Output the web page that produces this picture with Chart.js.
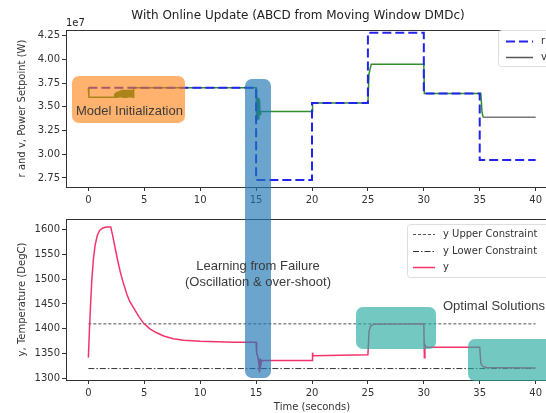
<!DOCTYPE html>
<html>
<head>
<meta charset="utf-8">
<script src="https://cdn.jsdelivr.net/npm/chart.js@4.4.1/dist/chart.umd.min.js"></script>
<style>
  html, body { margin: 0; padding: 0; background: #fff; overflow: hidden; }
  #wrap { position: relative; width: 546px; height: 413px; overflow: hidden; }
  #wrap canvas { position: absolute; left: 0; }
  #topChart { top: 0; }
  #bottomChart { top: 205px; }
  .hl { position: absolute; border-radius: 7px; z-index: 2; }
  .note { position: absolute; z-index: 3; font-family: "Liberation Sans", Arial, sans-serif;
          font-size: 13px; line-height: 16px; color: #3b3b3b; white-space: nowrap; }
</style>
</head>
<body>
<div id="wrap">
  <canvas id="topChart" width="560" height="207"></canvas>
  <canvas id="bottomChart" width="560" height="208"></canvas>

  <div class="hl" style="left:72px;top:76px;width:113px;height:47px;background:rgba(255,127,14,0.6)"></div>
  <div class="hl" style="left:245px;top:79px;width:26px;height:299px;background:rgba(31,119,180,0.66)"></div>
  <div class="hl" style="left:356px;top:307px;width:80px;height:42px;background:rgba(40,170,160,0.65)"></div>
  <div class="hl" style="left:468px;top:339px;width:100px;height:42px;background:rgba(40,170,160,0.65)"></div>

  <div class="note" style="left:76px;top:103px">Model Initialization</div>
  <div class="note" style="left:158px;top:258px;width:200px;text-align:center">Learning from Failure<br>(Oscillation &amp; over-shoot)</div>
  <div class="note" style="left:443px;top:298px">Optimal Solutions</div>
</div>

<script>
// ---- data (power in units of 1e7 W) ----
const timeTicks = [0, 5, 10, 15, 20, 25, 30, 35, 40];
const powerTicks = [2.75, 3.00, 3.25, 3.50, 3.75, 4.00, 4.25];
const tempTicks = [1300, 1350, 1400, 1450, 1500, 1550, 1600];

const rTime = [0, 15, 15, 20, 20, 25, 25, 30, 30, 35, 35, 40];
const rVal  = [3.70, 3.70, 2.73, 2.73, 3.54, 3.54, 4.28, 4.28, 3.64, 3.64, 2.94, 2.94];

const vTime = [0, 0.05, 2.30, 2.35, 2.40, 2.45, 2.50, 2.55, 2.60, 2.65, 2.70, 2.75, 2.80, 2.85, 2.90, 2.95,
               3.00, 3.05, 3.10, 3.15, 3.20, 3.25, 3.30, 3.35, 3.40, 3.45, 3.50, 3.55, 3.60, 3.65, 3.70, 3.75,
               3.80, 3.85, 3.90, 3.95, 4.00, 4.05,
               15, 15.05, 15.1, 15.15, 15.2, 15.25, 15.3, 15.35, 15.4, 20, 20.05, 25, 25.1, 25.3, 30, 30.05,
               35.1, 35.2, 35.3, 40];
const vVal  = [3.70, 3.60, 3.60, 3.64, 3.60, 3.65, 3.60, 3.66, 3.60, 3.66, 3.60, 3.67, 3.60, 3.67, 3.60, 3.68,
               3.60, 3.68, 3.60, 3.68, 3.60, 3.68, 3.60, 3.68, 3.60, 3.68, 3.60, 3.68, 3.60, 3.68, 3.60, 3.68,
               3.60, 3.68, 3.60, 3.68, 3.60, 3.70,
               3.70, 3.36, 3.60, 3.36, 3.59, 3.37, 3.58, 3.42, 3.45, 3.45, 3.54, 3.54, 3.85, 3.95, 3.95, 3.64,
               3.64, 3.45, 3.39, 3.39];

const yTime = [0, 0.1, 0.2, 0.3, 0.45, 0.6, 0.8, 1.0, 1.3, 1.6, 2.0, 2.2, 2.4, 2.6, 2.85, 3.1, 3.45, 3.7, 4.05, 4.5, 4.95,
               5.5, 6.1, 6.8, 7.6, 8.5, 10, 13, 15, 15.05, 15.15, 15.25, 15.3, 15.35, 15.4, 15.5, 20, 20.05, 20.1,
               25, 25.1, 25.25, 25.5, 30, 30.05, 30.1, 30.2, 35, 35.1, 35.3, 35.6, 40];
const yVal  = [1342, 1400, 1450, 1495, 1540, 1568, 1588, 1598, 1603, 1605, 1605, 1585, 1562, 1540, 1515, 1494, 1469, 1455, 1442, 1425, 1411,
               1400, 1392, 1385, 1380, 1377, 1375, 1373, 1373, 1350, 1345, 1330, 1312, 1340, 1325, 1336, 1336, 1352, 1346,
               1348, 1395, 1406, 1409, 1410, 1342, 1368, 1363, 1363, 1330, 1324, 1322, 1321];

const upperTime = [0, 40];
const upperVal  = [1410, 1410];
const lowerTime = [0, 40];
const lowerVal  = [1320, 1320];

const pts = (xs, ys) => xs.map((x, i) => ({ x: x, y: ys[i] }));

Chart.defaults.font.family = "DejaVu Sans";
Chart.defaults.font.size = 10;
Chart.defaults.color = "#333";

// frame, in-plot legend and extra texts
const decor = {
    id: 'decor',
    afterDraw(chart, args, opts) {
        const ctx = chart.ctx;
        const a = chart.chartArea;
        ctx.save();
        ctx.strokeStyle = '#333';
        ctx.lineWidth = 1;
        ctx.setLineDash([]);
        ctx.strokeRect(Math.round(a.left) + 0.5, Math.round(a.top) + 0.5,
                       Math.round(a.right - a.left), Math.round(a.bottom - a.top));

        const L = opts.legend;
        if (L) {
            const x0 = a.right - L.right, y0 = a.top + L.top;
            ctx.fillStyle = 'rgba(255,255,255,0.85)';
            ctx.strokeStyle = '#dedede';
            ctx.beginPath();
            ctx.roundRect(x0 + 0.5, y0 + 0.5, L.width, L.height, 3);
            ctx.fill();
            ctx.stroke();
            ctx.font = '10px "DejaVu Sans"';
            ctx.textBaseline = 'middle';
            chart.data.datasets.forEach((ds, i) => {
                const y = Math.round(y0 + L.first + i * L.gap) + 0.5;
                ctx.strokeStyle = ds.legendColor || ds.borderColor;
                ctx.lineWidth = ds.borderWidth;
                ctx.setLineDash(ds.borderDash || []);
                ctx.beginPath();
                ctx.moveTo(x0 + L.pad, y);
                ctx.lineTo(x0 + L.pad + L.len, y);
                ctx.stroke();
                ctx.setLineDash([]);
                ctx.fillStyle = '#333';
                ctx.fillText(ds.label, x0 + L.pad + L.len + 8, y);
            });
        }
        (opts.texts || []).forEach(t => {
            ctx.font = t.font;
            ctx.fillStyle = '#222';
            ctx.textAlign = t.align || 'left';
            ctx.textBaseline = 'alphabetic';
            ctx.fillText(t.text, t.x, t.y);
        });
        ctx.restore();
    }
};

function xAxis(height, title) {
    return {
        type: 'linear', min: -2, max: 42,
        afterBuildTicks: axis => { axis.ticks = timeTicks.map(v => ({ value: v })); },
        afterFit: scale => { scale.height = height; },
        ticks: { padding: 3, autoSkip: false, maxRotation: 0 },
        grid: { drawOnChartArea: false, tickLength: 4, color: '#333' },
        border: { display: false },
        title: title ? { display: true, text: title, padding: { top: 2, bottom: 0 }, font: { size: 10 } } : { display: false }
    };
}

function yAxis(min, max, tickVals, digits, title) {
    return {
        type: 'linear', min: min, max: max,
        afterBuildTicks: axis => { axis.ticks = tickVals.map(v => ({ value: v })); },
        afterFit: scale => { scale.width = 66; },
        ticks: { padding: 2, callback: v => Number(v).toFixed(digits) },
        grid: { drawOnChartArea: false, tickLength: 4, color: '#333' },
        border: { display: false },
        title: { display: true, text: title, padding: { top: 16, bottom: 0 }, font: { size: 10 } }
    };
}

// Power setpoint chart
new Chart(document.getElementById('topChart'), {
    type: 'line',
    data: {
        datasets: [{
            label: 'r',
            data: pts(rTime, rVal),
            borderColor: '#2323ee',
            borderWidth: 2,
            borderDash: [9, 4],
            order: 0
        }, {
            label: 'v',
            data: pts(vTime, vVal),
            borderColor: '#2f8f2f',
            legendColor: '#555',
            borderWidth: 1.5,
            segment: { borderColor: c => c.p0.parsed.x >= 35.25 ? '#777' : '#2f8f2f' },
            order: 1
        }]
    },
    options: {
        responsive: false,
        animation: false,
        elements: { point: { radius: 0 }, line: { tension: 0 } },
        layout: { padding: { top: 30, right: 2, bottom: 0, left: 0 }, autoPadding: false },
        scales: {
            x: xAxis(20, null),
            y: yAxis(2.655, 4.31, powerTicks, 2, 'r and v, Power Setpoint (W)')
        },
        plugins: {
            legend: { display: false },
            tooltip: { enabled: false },
            decor: {
                legend: { right: 60, top: 0, width: 70, height: 36, first: 11, gap: 16, pad: 8, len: 27 },
                texts: [
                    { text: 'With Online Update (ABCD from Moving Window DMDc)', x: 298, y: 19, font: '12px "DejaVu Sans"', align: 'center' },
                    { text: '1e7', x: 66, y: 26, font: '10px "DejaVu Sans"' }
                ]
            }
        }
    },
    plugins: [decor]
});

// Temperature chart
new Chart(document.getElementById('bottomChart'), {
    type: 'line',
    data: {
        datasets: [{
            label: 'y Upper Constraint',
            data: pts(upperTime, upperVal),
            borderColor: '#4a5252',
            borderWidth: 1,
            borderDash: [3, 2],
            order: 1
        }, {
            label: 'y Lower Constraint',
            data: pts(lowerTime, lowerVal),
            borderColor: '#333',
            borderWidth: 1,
            borderDash: [6, 2, 1.5, 2],
            order: 1
        }, {
            label: 'y',
            data: pts(yTime, yVal),
            borderColor: '#f5336b',
            borderWidth: 1.5,
            order: 0
        }]
    },
    options: {
        responsive: false,
        animation: false,
        elements: { point: { radius: 0 }, line: { tension: 0 } },
        layout: { padding: { top: 14, right: 2, bottom: 0, left: 0 }, autoPadding: false },
        scales: {
            x: xAxis(33, 'Time (seconds)'),
            y: yAxis(1297, 1621, tempTicks, 0, 'y, Temperature (DegC)')
        },
        plugins: {
            legend: { display: false },
            tooltip: { enabled: false },
            decor: {
                legend: { right: 151, top: 5, width: 170, height: 53, first: 10, gap: 16.5, pad: 6, len: 22 }
            }
        }
    },
    plugins: [decor]
});
</script>
</body>
</html>
